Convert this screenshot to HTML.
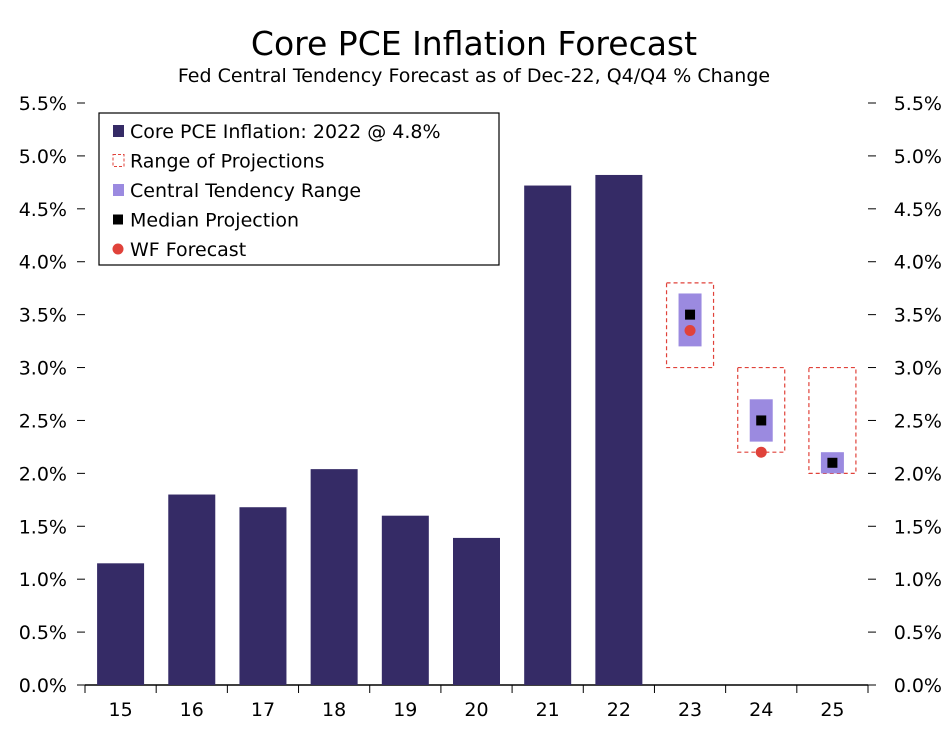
<!DOCTYPE html>
<html><head><meta charset="utf-8"><style>
body{margin:0;background:#fff;font-family:"Liberation Sans","DejaVu Sans",sans-serif}
text{font-family:"DejaVu Sans","Liberation Sans",sans-serif}
</style></head><body>
<svg id="chart" width="947" height="727" xmlns="http://www.w3.org/2000/svg">
<text x="474" y="55" text-anchor="middle" font-size="33" fill="#000">Core PCE Inflation Forecast</text>
<text x="474" y="82" text-anchor="middle" font-size="19" fill="#000">Fed Central Tendency Forecast as of Dec-22, Q4/Q4 % Change</text>
<g id="plot"></g>
</svg>
<script>
const categories=["15","16","17","18","19","20","21","22","23","24","25"];
const actualValues=[1.15,1.80,1.68,2.04,1.60,1.39,4.72,4.82,null,null,null];
const rangeLow=[null,null,null,null,null,null,null,null,3.0,2.2,2.0];
const rangeHigh=[null,null,null,null,null,null,null,null,3.8,3.0,3.0];
const ctLow=[null,null,null,null,null,null,null,null,3.2,2.3,2.0];
const ctHigh=[null,null,null,null,null,null,null,null,3.7,2.7,2.2];
const medianValues=[null,null,null,null,null,null,null,null,3.5,2.5,2.1];
const wfValues=[null,null,null,null,null,null,null,null,3.35,2.2,null];
const yTicks=[0,0.5,1.0,1.5,2.0,2.5,3.0,3.5,4.0,4.5,5.0,5.5];
const NS="http://www.w3.org/2000/svg";
const X0=85,X1=868,Y0=685,Y1=103,YMAX=5.5;
const slot=(X1-X0)/categories.length;
const xC=i=>X0+slot*(i+0.5);
const y=v=>Y0-(v/YMAX)*(Y0-Y1);
const g=document.getElementById('plot');
function mk(t,a){const e=document.createElementNS(NS,t);for(const k in a)e.setAttribute(k,a[k]);g.appendChild(e);return e;}
let e=mk('line',{x1:X0,y1:Y0,x2:X1,y2:Y0,stroke:'#000','stroke-width':1.5});


yTicks.forEach(v=>{
 let l=mk('text',{x:X0-18,y:y(v)+7,'text-anchor':'end','font-size':19});l.textContent=v.toFixed(1)+'%';
 
 
 let r=mk('text',{x:942,y:y(v)+7,'text-anchor':'end','font-size':19});r.textContent=v.toFixed(1)+'%';
 
 
 let t1=mk('line',{x1:X0-8,y1:y(v),x2:X0,y2:y(v),stroke:'#000'});
 
 
 let t2=mk('line',{x1:X1,y1:y(v),x2:X1+8,y2:y(v),stroke:'#000'});
 
 
});
for(let i=0;i<=categories.length;i++){
 let t=mk('line',{x1:X0+slot*i,y1:Y0,x2:X0+slot*i,y2:Y0+8,stroke:'#000'});
 
 
}
categories.forEach((c,i)=>{
 let t=mk('text',{x:xC(i),y:Y0+31,'text-anchor':'middle','font-size':19});t.textContent=c;
 
 
 if(actualValues[i]!=null){
  let b=mk('rect',{x:xC(i)-23.5,y:y(actualValues[i]),width:47,height:Y0-y(actualValues[i]),fill:'#352b66'});
  
  
 }
 if(rangeLow[i]!=null){
  let r=mk('rect',{x:xC(i)-23.5,y:y(rangeHigh[i]),width:47,height:y(rangeLow[i])-y(rangeHigh[i]),fill:'none',stroke:'#e0423a','stroke-width':1.2,'stroke-dasharray':'4,3'});
  
  
  let ct=mk('rect',{x:xC(i)-11.5,y:y(ctHigh[i]),width:23,height:y(ctLow[i])-y(ctHigh[i]),fill:'#9b8ae0'});
  
  
 }
 if(wfValues[i]!=null){
  let w=mk('circle',{cx:xC(i),cy:y(wfValues[i]),r:5.5,fill:'#e0423a'});
  
  
 }
 if(medianValues[i]!=null){
  let m=mk('rect',{x:xC(i)-5,y:y(medianValues[i])-5,width:10,height:10,fill:'#000'});
  
  
 }
});
let lg=mk('rect',{x:99,y:113,width:400,height:152,fill:'#fff',stroke:'#000','stroke-width':1.2});


const items=[["Core PCE Inflation: 2022 @ 4.8%","bar"],["Range of Projections","range"],["Central Tendency Range","ct"],["Median Projection","med"],["WF Forecast","wf"]];
items.forEach((it,k)=>{
 const cy=131+k*29.5,cx=118;
 let s;
 if(it[1]=="bar")s=mk('rect',{x:cx-5,y:cy-6,width:11,height:12,fill:'#352b66'});
 if(it[1]=="range")s=mk('rect',{x:cx-5,y:cy-6,width:11,height:12,fill:'none',stroke:'#e0423a','stroke-dasharray':'3,2'});
 if(it[1]=="ct")s=mk('rect',{x:cx-5,y:cy-6,width:11,height:12,fill:'#9b8ae0'});
 if(it[1]=="med")s=mk('rect',{x:cx-5,y:cy-5,width:10,height:10,fill:'#000'});
 if(it[1]=="wf")s=mk('circle',{cx:cx,cy:cy,r:5.5,fill:'#e0423a'});
 
 
 let t=mk('text',{x:130,y:cy+7,'font-size':19});t.textContent=it[0];
 
 
});
</script>
</body></html>
